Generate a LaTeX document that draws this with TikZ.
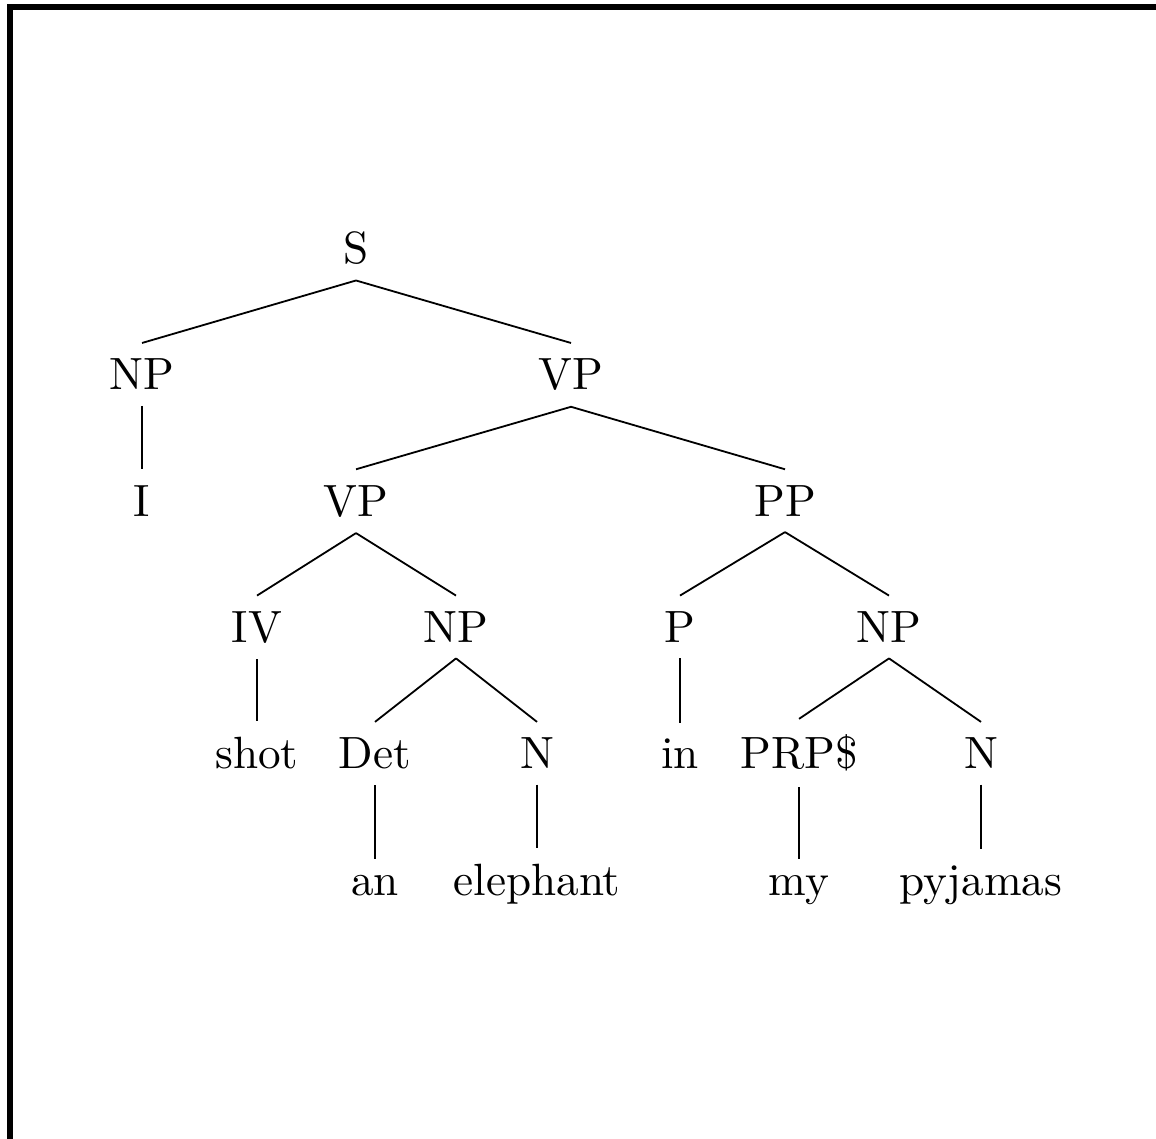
\documentclass[tikz,border=0pt]{standalone}
\begin{document}
\begin{tikzpicture}[
  x={(0.22124pt,0)}, y={(0,-0.22124pt)},
  lbl/.style={anchor=base, inner sep=0.3333em, font=\fontsize{10}{12}\selectfont},
  branch/.style={line width=0.4pt}
]
\useasboundingbox (0,0) rectangle (1156,1138);
% frame on the left and top edges
\draw[line width=1.15pt] (10,1140) -- (10,7) -- (1160,7);

% row baselines
\def\ra{263.5}\def\rb{389.8}\def\rc{516.1}\def\rd{642.4}\def\re{768.7}\def\rf{895}

\node[lbl] (s)     at (356,\ra) {S};
\node[lbl] (np1)   at (142,\rb) {NP};
\node[lbl] (vp1)   at (571,\rb) {VP};
\node[lbl] (i)     at (142,\rc) {I};
\node[lbl] (vp2)   at (356,\rc) {VP};
\node[lbl] (pp)    at (785,\rc) {PP};
\node[lbl] (iv)    at (257,\rd) {IV};
\node[lbl] (np2)   at (456,\rd) {NP};
\node[lbl] (p)     at (680,\rd) {P};
\node[lbl] (np3)   at (889,\rd) {NP};
\node[lbl] (shot)  at (257,\re) {shot};
\node[lbl] (det)   at (375,\re) {Det};
\node[lbl] (n1)    at (537,\re) {N};
\node[lbl] (in)    at (680,\re) {in};
\node[lbl] (prp)   at (799,\re) {PRP\$};
\node[lbl] (n2)    at (981,\re) {N};
\node[lbl] (an)    at (375,\rf) {an};
\node[lbl] (eleph) at (537,\rf) {elephant};
\node[lbl] (my)    at (799,\rf) {my};
\node[lbl] (pyj)   at (981,\rf) {pyjamas};

\foreach \a/\b in {s/np1, s/vp1, np1/i, vp1/vp2, vp1/pp,
                   vp2/iv, vp2/np2, pp/p, pp/np3,
                   iv/shot, np2/det, np2/n1, p/in, np3/prp, np3/n2,
                   det/an, n1/eleph, prp/my, n2/pyj}
  \draw[branch] (\a.south) -- (\b.north);
\end{tikzpicture}
\end{document}
